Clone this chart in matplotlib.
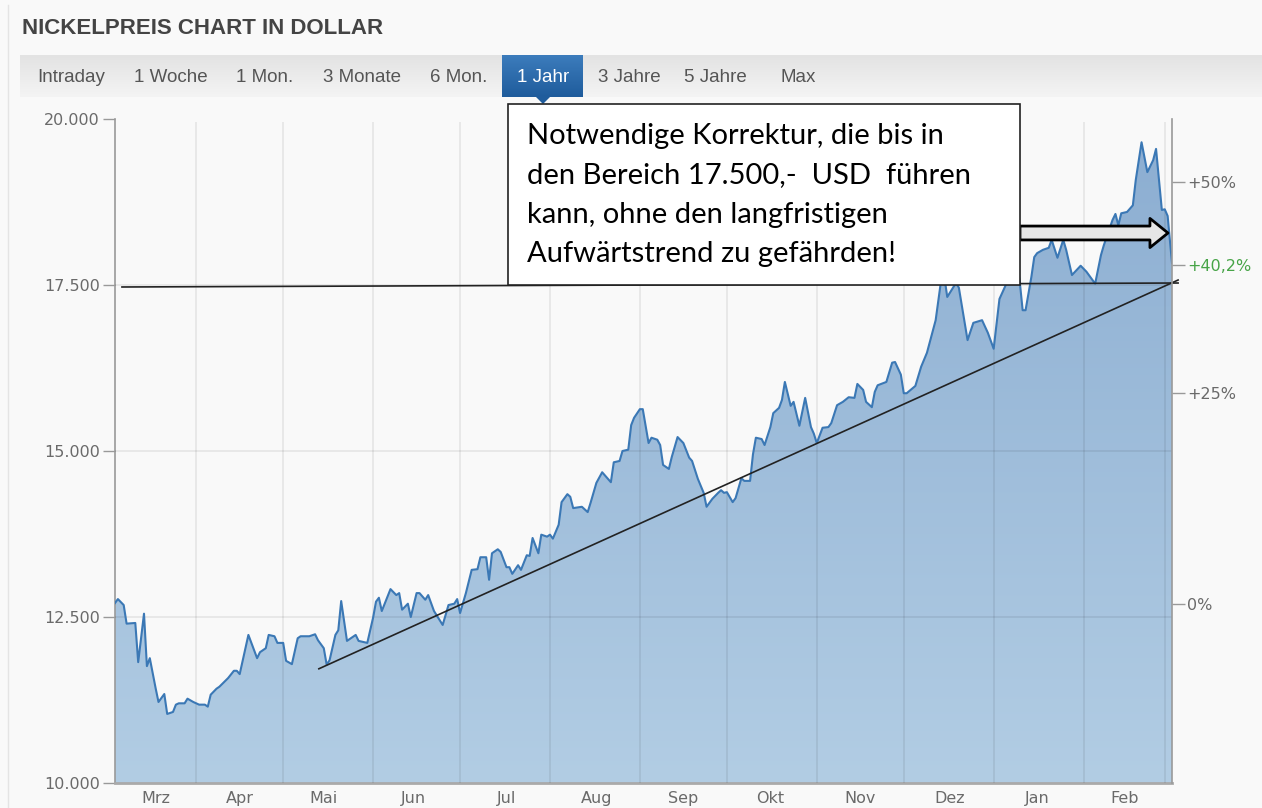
import numpy as np
import matplotlib
matplotlib.use('Agg')
import matplotlib.pyplot as plt
from matplotlib.colors import LinearSegmentedColormap
from matplotlib.patches import Rectangle, Polygon
from matplotlib.lines import Line2D

# Tage seit Chartbeginn (Anfang Maerz 2020) und Nickelpreis in USD
tage = [0, 1, 3, 4, 7, 8, 10, 11, 12, 14,
        15, 17, 18, 20, 21, 22, 24, 25, 27, 29,
        31, 32, 33, 35, 36, 39, 41, 42, 43, 46,
        49, 50, 52, 53, 55, 56, 58, 59, 61, 63,
        64, 67, 69, 70, 72, 73, 74, 76, 77, 78,
        80, 83, 84, 87, 89, 90, 91, 92, 95, 97,
        98, 99, 101, 102, 104, 105, 107, 108, 110, 111,
        113, 115, 117, 118, 119, 121, 123, 125, 126, 128,
        129, 130, 132, 133, 135, 136, 137, 139, 140, 142,
        143, 144, 146, 147, 149, 150, 151, 153, 154, 156,
        157, 158, 161, 163, 164, 166, 168, 171, 172, 174,
        175, 177, 178, 179, 181, 182, 184, 185, 187, 188,
        189, 191, 192, 194, 196, 198, 199, 201, 203, 204,
        206, 208, 209, 210, 211, 213, 214, 216, 217, 219,
        220, 221, 223, 224, 226, 227, 229, 230, 231, 233,
        234, 236, 237, 238, 240, 241, 242, 244, 246, 247,
        249, 251, 253, 255, 256, 258, 259, 261, 262, 263,
        266, 268, 269, 271, 272, 273,
        276, 278, 280, 283, 285, 286, 287, 290, 291, 294, 296, 299, 301, 303,
        305, 308, 310, 311, 312, 313, 314, 316, 317, 318,
        320, 322, 323, 325, 327, 328, 330, 333, 335, 338,
        340, 341, 344, 345, 346, 347, 349, 351, 352, 354,
        356, 358, 359, 361, 362, 363, 364.5]
preis = [12710, 12770, 12680, 12400, 12410, 11820, 12550, 11760, 11880, 11430,
         11220, 11340, 11040, 11070, 11180, 11200, 11200, 11270, 11220, 11180,
         11180, 11150, 11330, 11420, 11450, 11580, 11690, 11690, 11640, 12230,
         11880, 11970, 12030, 12230, 12210, 12110, 12110, 11840, 11790, 12180,
         12210, 12210, 12240, 12150, 12030, 11780, 11850, 12230, 12300, 12740,
         12140, 12230, 12140, 12110, 12490, 12730, 12790, 12590, 12920, 12830,
         12860, 12610, 12700, 12500, 12860, 12860, 12760, 12830, 12590, 12520,
         12380, 12680, 12700, 12770, 12560, 12860, 13210, 13220, 13400, 13400,
         13060, 13460, 13520, 13480, 13250, 13250, 13150, 13280, 13210, 13430,
         13420, 13690, 13460, 13740, 13710, 13740, 13680, 13890, 14230, 14350,
         14310, 14140, 14160, 14080, 14220, 14520, 14680, 14530, 14830, 14850,
         15000, 15020, 15390, 15500, 15630, 15630, 15120, 15200, 15170, 15090,
         14790, 14730, 14910, 15210, 15120, 14900, 14850, 14580, 14370, 14160,
         14280, 14370, 14410, 14370, 14380, 14230, 14290, 14590, 14550, 14550,
         14950, 15200, 15180, 15090, 15360, 15570, 15650, 15770, 16040, 15680,
         15740, 15380, 15590, 15800, 15360, 15260, 15120, 15350, 15360, 15420,
         15690, 15740, 15810, 15800, 16010, 15920, 15740, 15660, 15890, 15990,
         16040, 16330, 16340, 16150, 15870, 15870,
         15980, 16270, 16480, 16970, 17610, 17620, 17320, 17530, 17460, 16670,
         16930, 16970, 16780, 16540,
         17290, 17580, 17890, 17850, 17550, 17120, 17120, 17620, 17920, 17980,
         18030, 18060, 18180, 17910, 18180, 18030, 17650, 17790, 17700, 17520,
         17950, 18100, 18480, 18570, 18400, 18580, 18600, 18700, 19080, 19650,
         19200, 19380, 19550, 18630, 18640, 18540, 17830]

monat_start = [28, 58, 89, 119, 150, 181, 211, 242, 272, 303, 334, 362]
monat_pos = [14, 43, 72, 103, 135, 166, 196, 226, 257, 288, 318, 348]
monate = ['Mrz', 'Apr', 'Mai', 'Jun', 'Jul', 'Aug', 'Sep', 'Okt', 'Nov', 'Dez', 'Jan', 'Feb']

y_ticks = [10000, 12500, 15000, 17500, 20000]
y_labels = ['10.000', '12.500', '15.000', '17.500', '20.000']
basis = 12700
pct_ticks = [0, 0.25, 0.402, 0.50]
pct_labels = ['0%', '+25%', '+40,2%', '+50%']

tabs = ['Intraday', '1 Woche', '1 Mon.', '3 Monate', '6 Mon.', '1 Jahr', '3 Jahre', '5 Jahre', 'Max']
tab_x = [71, 171, 265, 362, 459, 543, 629, 715, 798]

# Trendlinien (Tag, Preis)
horizontal = ([2.4, 366.6], [17470, 17530])
trend = ([70.3, 366.6], [11720, 17575])

W, H = 1262, 808
fig = plt.figure(figsize=(W / 100, H / 100), dpi=100, facecolor='#f9f9f9')


def fx(px):
    return px / W


def fy(py):
    return 1 - py / H


narrow = ['Liberation Sans Narrow', 'Liberation Sans', 'DejaVu Sans']

# Titel
fig.text(fx(22), fy(28), 'NICKELPREIS CHART IN DOLLAR', family=narrow, fontweight='bold',
         fontsize=16, color='#444444', va='center', ha='left')

# Reiterleiste
hdr = fig.add_axes([fx(20), fy(97), fx(W - 20), (97 - 55) / H])
hdr.imshow(np.linspace(0, 1, 50).reshape(-1, 1), cmap=LinearSegmentedColormap.from_list('h', ['#e3e3e3', '#f4f4f4']),
           aspect='auto', extent=[0, 1, 0, 1], origin='upper')
hdr.set_axis_off()
sel = fig.add_axes([fx(502), fy(97), fx(583 - 502), (97 - 55) / H])
sel.imshow(np.linspace(0, 1, 50).reshape(-1, 1), cmap=LinearSegmentedColormap.from_list('s', ['#3c7cbc', '#1f5c9c']),
           aspect='auto', extent=[0, 1, 0, 1], origin='upper')
sel.set_axis_off()
fig.add_artist(Polygon([[fx(536), fy(97)], [fx(550), fy(97)], [fx(543), fy(104)]],
                       closed=True, transform=fig.transFigure, fc='#1f5c9c', ec='none'))
for t, x in zip(tabs, tab_x):
    fig.text(fx(x), fy(77), t, family=narrow, fontsize=13.5, ha='center', va='center',
             color='white' if t == '1 Jahr' else '#555555', zorder=5)

# Hauptdiagramm
ax = fig.add_axes([fx(115), fy(783), fx(1172 - 115), (783 - 119) / H])
ax.set_facecolor('#f9f9f9')
xmax = 364.5

fb = ax.fill_between(tage, preis, 10000, color='none', lw=0)
grad = np.linspace(0, 1, 256).reshape(-1, 1)
cmap = LinearSegmentedColormap.from_list('f', ['#b2cde4', '#8badd1'])
im = ax.imshow(grad, extent=[0, xmax, 10000, 20000], origin='lower', aspect='auto', cmap=cmap, zorder=1)
im.set_clip_path(fb.get_paths()[0], transform=ax.transData)
ax.plot(tage, preis, color='#3b78b5', lw=1.5, zorder=4)

ax.vlines(monat_start, 10000, 19950, colors='black', alpha=0.08, lw=1.2, zorder=3)
ax.hlines([12500, 15000, 17500], 0, xmax, colors='black', alpha=0.08, lw=1.2, zorder=3)

ax.plot(*horizontal, color='#222222', lw=1.2, zorder=6, clip_on=False)
ax.plot(*trend, color='#222222', lw=1.2, zorder=6, clip_on=False)

ax.set_xlim(0, xmax)
ax.set_ylim(10000, 20000)
ax.set_yticks(y_ticks)
ax.set_yticklabels(y_labels)
ax.set_xticks(monat_pos)
ax.set_xticklabels(monate)
ax.tick_params(axis='x', length=0, pad=6, labelsize=11.5, labelcolor='#6a6a6a')
ax.tick_params(axis='y', length=9, width=1, color='#999999', pad=2, labelsize=11.5, labelcolor='#6a6a6a')
for s in ['top', 'right']:
    ax.spines[s].set_visible(False)
ax.spines['left'].set_color('#9a9a9a')
ax.spines['left'].set_linewidth(1.2)
ax.spines['bottom'].set_color('#aaaaaa')
ax.spines['bottom'].set_linewidth(2)

ax2 = ax.twinx()
ax2.set_ylim(10000, 20000)
ax2.set_yticks([basis * (1 + p) for p in pct_ticks])
ax2.set_yticklabels(pct_labels)
ax2.tick_params(axis='y', length=9, width=1, color='#999999', pad=2, labelsize=11.5, labelcolor='#6a6a6a')
for lbl in ax2.get_yticklabels():
    if lbl.get_text() == '+40,2%':
        lbl.set_color('#47a447')
for s in ['top', 'left', 'bottom']:
    ax2.spines[s].set_visible(False)
ax2.spines['right'].set_color('#9a9a9a')
ax2.spines['right'].set_linewidth(1.2)

# Kommentar-Box und Pfeil
fig.add_artist(Rectangle((fx(508), fy(285)), fx(1020 - 508), (285 - 104) / H, transform=fig.transFigure,
                         fc='white', ec='#222222', lw=1.2, zorder=10))
zeilen = ['Notwendige Korrektur, die bis in',
          'den Bereich 17.500,-  USD  führen',
          'kann, ohne den langfristigen',
          'Aufwärtstrend zu gefährden!']
for i, z in enumerate(zeilen):
    fig.text(fx(527), fy(136 + 39.3 * i), z, family=['Lato', 'DejaVu Sans'], fontsize=21,
             color='black', va='center', ha='left', zorder=11)

ax.annotate('', xy=(1168, H - 233), xytext=(1020, H - 233), xycoords='figure pixels',
            textcoords='figure pixels',
            arrowprops=dict(arrowstyle='simple,head_length=1.3,head_width=2.1,tail_width=1.0',
                            fc='#e6e6e6', ec='black', lw=2, shrinkA=0, shrinkB=0, mutation_scale=10),
            zorder=12, annotation_clip=False)

fig.add_artist(Line2D([fx(8), fx(8)], [0, fy(5)], transform=fig.transFigure, color='#e4e4e4', lw=1))

fig.savefig('out.png', dpi=100, facecolor=fig.get_facecolor())
